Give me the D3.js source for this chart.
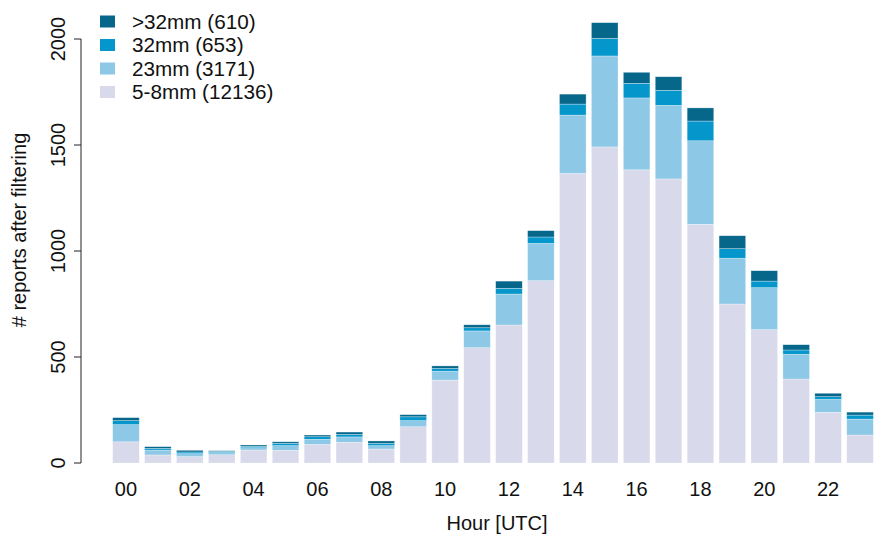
<!DOCTYPE html>
<html>
<head>
<meta charset="utf-8">
<script src="https://cdn.jsdelivr.net/npm/d3@7"></script>
<style>
  body { margin: 0; background: #fff; }
  text { font-family: "Liberation Sans", Arial, sans-serif; fill: #111; }
</style>
</head>
<body>
<div id="chart"></div>
<script>
// hours 00..23
var hours = d3.range(24).map(function(h){ return (h < 10 ? '0' : '') + h; });

// counts per hour, one array per hail size class (bottom to top)
var small  = [100, 38, 30, 39, 61, 60, 88, 98, 66, 171, 391, 544, 651, 860, 1366, 1491, 1383, 1340, 1126, 750, 629, 396, 239, 132];  // 5-8mm
var mm23   = [81, 23, 14, 10, 11, 22, 24, 25, 16, 29, 42, 79, 146, 176, 275, 429, 339, 347, 394, 216, 198, 117, 61, 75];
var mm32   = [19, 8, 8, 6, 7, 11, 12, 12, 11, 18, 13, 15, 27, 30, 52, 83, 69, 71, 93, 45, 31, 20, 13, 19];
var big    = [14, 8, 8, 3, 6, 7, 8, 11, 11, 10, 12, 14, 34, 30, 47, 74, 52, 64, 62, 61, 49, 25, 16, 14];    // >32mm

var seriesKeys = ['small', 'mm23', 'mm32', 'big'];
var colors = ['#d8d9ea', '#8dc8e6', '#0596cb', '#07678a'];

// legend, top to bottom
var legendLabels = ['>32mm (610)', '32mm (653)', '23mm (3171)', '5-8mm (12136)'];
var legendColors = ['#07678a', '#0596cb', '#8dc8e6', '#d8d9ea'];

var yTicks = [0, 500, 1000, 1500, 2000];

var width = 877, height = 537;
var fontSize = 20;

var svg = d3.select('#chart')
    .append('svg')
    .attr('width', width)
    .attr('height', height);

var table = hours.map(function(h, i){
    return {hour: h, small: small[i], mm23: mm23[i], mm32: mm32[i], big: big[i]};
});
var stacked = d3.stack().keys(seriesKeys)(table);

var x = d3.scaleBand()
    .domain(hours)
    .range([110, 876])
    .paddingInner(1/6)
    .paddingOuter(1/12);

var y = d3.scaleLinear().domain([0, 2000]).range([463, 39]);

// bars
svg.append('g')
    .selectAll('g')
    .data(stacked)
    .enter()
    .append('g')
    .attr('fill', function(d, i){ return colors[i]; })
    .selectAll('rect')
    .data(function(d){ return d; })
    .enter()
    .append('rect')
    .attr('x', function(d){ return x(d.data.hour); })
    .attr('width', x.bandwidth())
    .attr('y', function(d){ return y(d[1]); })
    .attr('height', function(d){ return y(d[0]) - y(d[1]); })
    .attr('stroke', 'rgba(255,255,255,0.5)')
    .attr('stroke-width', 0.6);

// y axis, R style: line only over tick range
var yAxis = svg.append('g').attr('transform', 'translate(81,0)');
yAxis.append('line')
    .attr('y1', y(0)).attr('y2', y(2000))
    .attr('stroke', '#222');
yAxis.selectAll('.tick')
    .data(yTicks)
    .enter()
    .append('line')
    .attr('x1', 0).attr('x2', -7)
    .attr('y1', function(d){ return y(d); })
    .attr('y2', function(d){ return y(d); })
    .attr('stroke', '#222');
svg.selectAll('.ylab')
    .data(yTicks)
    .enter()
    .append('text')
    .attr('transform', function(d){ return 'translate(65,' + y(d) + ') rotate(-90)'; })
    .attr('text-anchor', 'middle')
    .style('font-size', fontSize + 'px')
    .text(function(d){ return d; });

// x labels every second hour
svg.selectAll('.xlab')
    .data(hours.filter(function(d, i){ return i % 2 === 0; }))
    .enter()
    .append('text')
    .attr('x', function(d){ return x(d) + x.bandwidth() / 2; })
    .attr('y', 496)
    .attr('text-anchor', 'middle')
    .style('font-size', fontSize + 'px')
    .text(function(d){ return d; });

// axis titles
svg.append('text')
    .attr('x', 497).attr('y', 530)
    .attr('text-anchor', 'middle')
    .style('font-size', fontSize + 'px')
    .text('Hour [UTC]');

svg.append('text')
    .attr('transform', 'translate(26,230) rotate(-90)')
    .attr('text-anchor', 'middle')
    .style('font-size', fontSize + 'px')
    .text('# reports after filtering');

// legend
var legend = svg.append('g')
    .selectAll('g')
    .data(legendLabels)
    .enter()
    .append('g')
    .attr('transform', function(d, i){ return 'translate(100,' + (21.5 + 23.5 * i) + ')'; });
legend.append('rect')
    .attr('x', 0).attr('y', -6)
    .attr('width', 15).attr('height', 12)
    .attr('fill', function(d, i){ return legendColors[i]; });
legend.append('text')
    .attr('x', 32).attr('y', 7)
    .style('font-size', '20.7px')
    .text(function(d){ return d; });
</script>
</body>
</html>
